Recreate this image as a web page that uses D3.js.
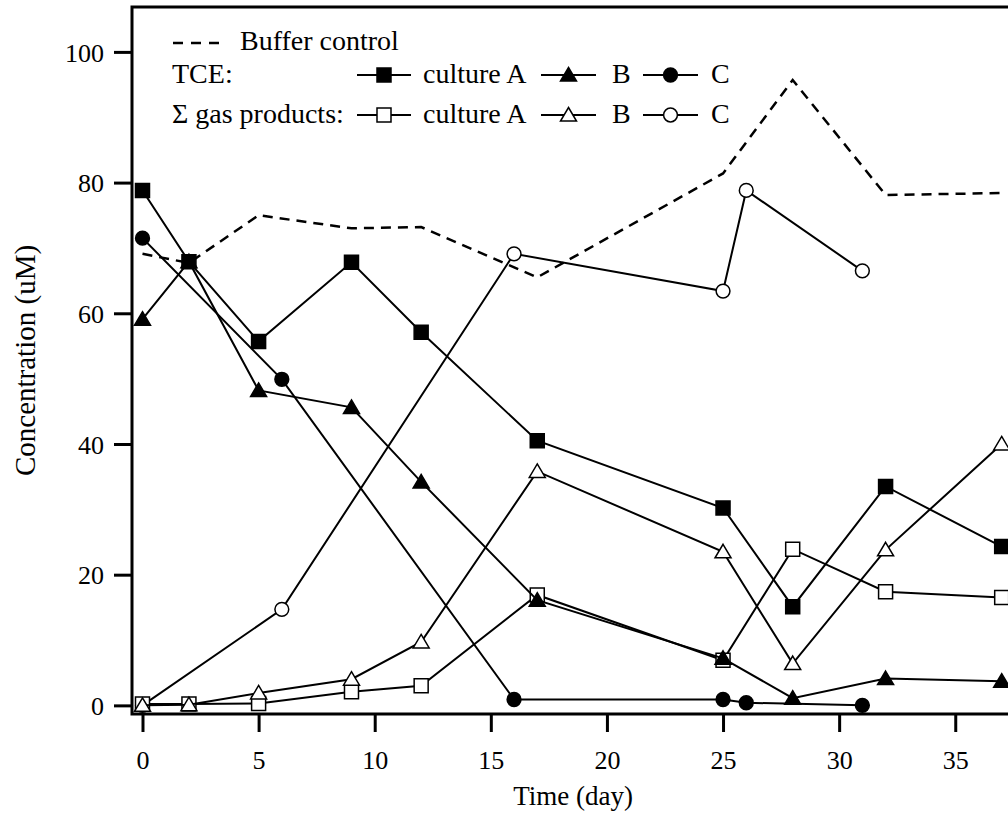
<!DOCTYPE html>
<html>
<head>
<meta charset="utf-8">
<script src="https://cdn.jsdelivr.net/npm/d3@7"></script>
<style>
  body { margin: 0; background: #fff; }
  svg { display: block; font-family: "Liberation Serif", "Times New Roman", serif; }
  .tick text { font-size: 26px; fill: #000; }
  .legend text { font-size: 28px; fill: #000; }
</style>
</head>
<body>
<div id="chart"></div>
<script>
// Data
const days = [0, 2, 5, 9, 12, 17, 25, 28, 32, 37];
const buffer = [69.1, 67.7, 75.0, 73.0, 73.2, 65.5, 81.4, 95.7, 78.1, 78.4];
const tceA = [78.8, 67.9, 55.7, 67.8, 57.1, 40.5, 30.2, 15.1, 33.5, 24.3];
const tceB = [59.1, 67.9, 48.2, 45.6, 34.2, 16.1, 7.2, 1.1, 4.1, 3.7];
const gasA = [0.2, 0.2, 0.3, 2.1, 3.0, 16.9, 6.9, 23.9, 17.4, 16.5];
const gasB = [0.0, 0.1, 1.9, 4.0, 9.7, 35.8, 23.5, 6.4, 23.8, 40.0];
const daysC = [0, 6, 16, 25, 26, 31];
const tceC = [71.5, 49.9, 0.9, 0.9, 0.4, 0.0];
const gasC = [0.0, 14.7, 69.1, 63.4, 78.8, 66.5];

const xTicks = [0, 5, 10, 15, 20, 25, 30, 35];
const yTicks = [0, 20, 40, 60, 80, 100];

// Plot box (right edge runs past the window, like the original)
const plot = { left: 132, right: 1014, top: 7, bottom: 714 };

const svg = d3.select("#chart")
    .append("svg")
    .attr("width", 1008)
    .attr("height", 816);

const x = d3.scaleLinear()
    .domain([-0.452, 37.53])
    .range([plot.left, plot.right]);

const y = d3.scaleLinear()
    .domain([-1.32, 106.87])
    .range([plot.bottom, plot.top]);

// Axes
const xAxis = svg.append("g")
    .attr("transform", `translate(0,${plot.bottom})`)
    .call(d3.axisBottom(x).tickValues(xTicks).tickSize(18).tickSizeOuter(0).tickFormat(d3.format("d")))
    .attr("font-family", null)
    .attr("font-size", null);
xAxis.select(".domain").remove();
xAxis.selectAll(".tick line").attr("stroke", "#000").attr("stroke-width", 3);
xAxis.selectAll(".tick text").attr("y", 55).attr("dy", 0);

const yAxis = svg.append("g")
    .attr("transform", `translate(${plot.left},0)`)
    .call(d3.axisLeft(y).tickValues(yTicks).tickSize(18).tickSizeOuter(0).tickPadding(10))
    .attr("font-family", null)
    .attr("font-size", null);
yAxis.select(".domain").remove();
yAxis.selectAll(".tick line").attr("stroke", "#000").attr("stroke-width", 3);
yAxis.selectAll(".tick text").attr("dy", "0.35em");

// Frame
svg.append("path")
    .attr("d", `M${plot.right},${plot.top}H${plot.left}V${plot.bottom}H${plot.right}`)
    .attr("fill", "none")
    .attr("stroke", "#000")
    .attr("stroke-width", 3);

// Axis titles
svg.append("text")
    .attr("x", (plot.left + plot.right) / 2)
    .attr("y", 805)
    .attr("text-anchor", "middle")
    .style("font-size", "27px")
    .text("Time (day)");

svg.append("text")
    .attr("transform", `translate(35,${(plot.top + plot.bottom) / 2}) rotate(-90)`)
    .attr("text-anchor", "middle")
    .style("font-size", "29px")
    .text("Concentration (uM)");

// Marker shapes
function markerPath(shape) {
    if (shape === "square") return "M-7,-7H7V7H-7Z";
    if (shape === "triangle") return "M0,-7.5L8,6L-8,6Z";
    return d3.symbol(d3.symbolCircle, 150)();
}

function drawMarker(g, shape, filled, px, py) {
    g.append("path")
        .attr("d", markerPath(shape))
        .attr("transform", `translate(${px},${py})`)
        .attr("fill", filled ? "#000" : "#fff")
        .attr("stroke", "#000")
        .attr("stroke-width", 1.5);
}

const line = d3.line().x(d => x(d[0])).y(d => y(d[1]));

// Buffer control (dashed, no markers)
svg.append("path")
    .datum(d3.zip(days, buffer))
    .attr("d", line)
    .attr("fill", "none")
    .attr("stroke", "#000")
    .attr("stroke-width", 2.5)
    .attr("stroke-dasharray", "10,7");

// drawing order picked so overlapping markers stack as in the original
const series = [
    { xs: daysC, ys: gasC, shape: "circle", filled: false },
    { xs: days, ys: gasA, shape: "square", filled: false },
    { xs: days, ys: tceB, shape: "triangle", filled: true },
    { xs: days, ys: tceA, shape: "square", filled: true },
    { xs: daysC, ys: tceC, shape: "circle", filled: true },
    { xs: days, ys: gasB, shape: "triangle", filled: false }
];

series.forEach(s => {
    const pts = d3.zip(s.xs, s.ys);
    const g = svg.append("g");
    g.append("path")
        .datum(pts)
        .attr("d", line)
        .attr("fill", "none")
        .attr("stroke", "#000")
        .attr("stroke-width", 2);
    pts.forEach(p => drawMarker(g, s.shape, s.filled, x(p[0]), y(p[1])));
});

// Legend
const legend = svg.append("g").attr("class", "legend");

legend.append("path")
    .attr("d", "M173,43H220")
    .attr("stroke", "#000")
    .attr("stroke-width", 2.5)
    .attr("stroke-dasharray", "10,8");
legend.append("text").attr("x", 240).attr("y", 50).text("Buffer control");

const legendRows = [
    { label: "TCE:", y: 83, my: 75, filled: true },
    { label: "\u03A3 gas products:", y: 123, my: 115, filled: false }
];
const legendItems = [
    { shape: "square", x0: 357, x1: 411, text: "culture A", tx: 423 },
    { shape: "triangle", x0: 541, x1: 596, text: "B", tx: 612 },
    { shape: "circle", x0: 643, x1: 698, text: "C", tx: 711 }
];

legendRows.forEach(r => {
    legend.append("text").attr("x", 172).attr("y", r.y).text(r.label);
    legendItems.forEach(it => {
        legend.append("path")
            .attr("d", `M${it.x0},${r.my}H${it.x1}`)
            .attr("stroke", "#000")
            .attr("stroke-width", 2);
        drawMarker(legend, it.shape, r.filled, (it.x0 + it.x1) / 2, r.my);
        legend.append("text").attr("x", it.tx).attr("y", r.y).text(it.text);
    });
});
</script>
</body>
</html>
